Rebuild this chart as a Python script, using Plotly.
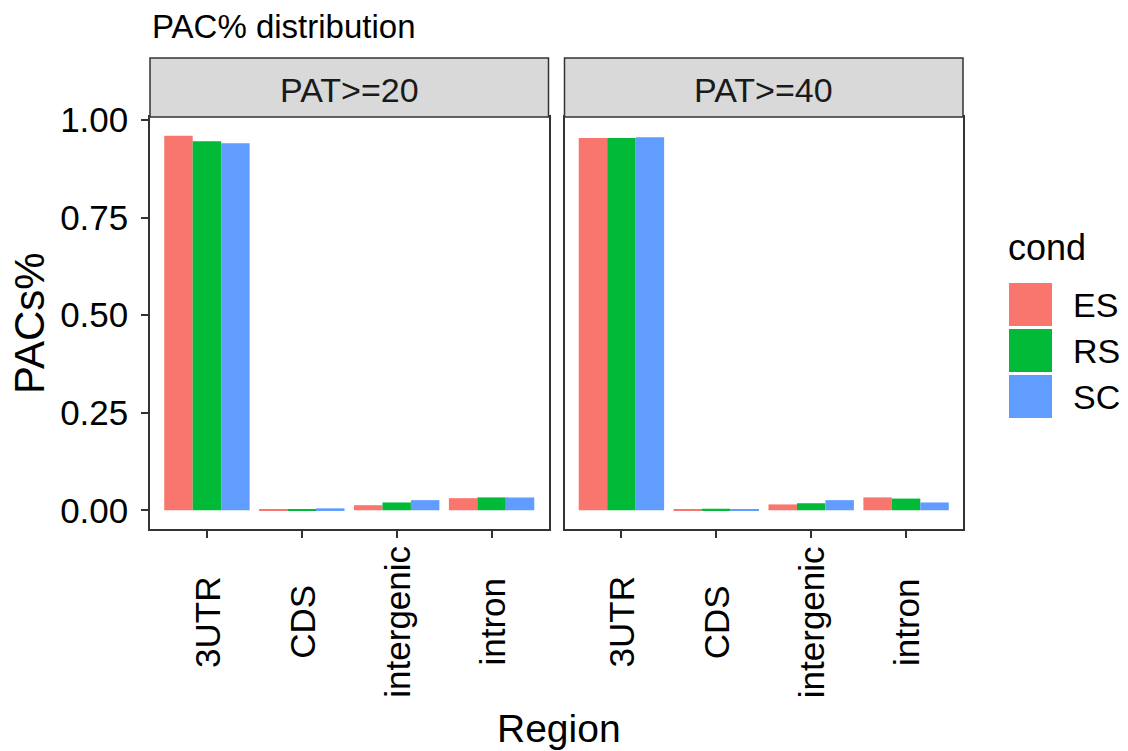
import plotly.graph_objects as go
from plotly.subplots import make_subplots

regions = ["3UTR", "CDS", "intergenic", "intron"]
panels = ["PAT>=20", "PAT>=40"]
conds = ["ES", "RS", "SC"]
colors = ["#F8766D", "#00BA38", "#619CFF"]

# values per panel, per condition
pat20_ES = [0.960, 0.002, 0.013, 0.031]
pat20_RS = [0.946, 0.003, 0.020, 0.033]
pat20_SC = [0.941, 0.005, 0.026, 0.033]
pat40_ES = [0.954, 0.002, 0.015, 0.033]
pat40_RS = [0.954, 0.004, 0.018, 0.030]
pat40_SC = [0.956, 0.003, 0.026, 0.020]

data = [[pat20_ES, pat20_RS, pat20_SC], [pat40_ES, pat40_RS, pat40_SC]]

W, H = 1128, 751
L, R, T, B = 150, 963, 117, 529
pw, ph = R - L, B - T

fig = make_subplots(rows=1, cols=2, shared_yaxes=True,
                    horizontal_spacing=16 / pw)

for p in range(2):
    for c in range(3):
        fig.add_trace(go.Bar(x=regions, y=data[p][c], name=conds[c],
                             marker=dict(color=colors[c], line=dict(width=0)),
                             offsetgroup=str(c), showlegend=False, hoverinfo="skip"),
                      row=1, col=p + 1)

font = "Liberation Sans, Arial, sans-serif"
axis_common = dict(showline=True, mirror=True, linecolor="#333333", linewidth=1.5,
                   showgrid=False, zeroline=False, ticks="outside", ticklen=7,
                   tickcolor="#333333", tickwidth=1.5,
                   tickfont=dict(family=font, size=35, color="black"))

fig.update_xaxes(**axis_common, showticklabels=False, range=[-0.6, 3.6])
fig.update_yaxes(**axis_common, range=[-0.048, 1.008], ticklabelstandoff=6,
                 tickvals=[0, 0.25, 0.5, 0.75, 1.0], tickformat=".2f")
fig.update_yaxes(ticks="", showticklabels=False, row=1, col=2)

def px_x(X):
    return (X - L) / pw

def px_y(Y):
    return (B - Y) / ph

shapes = []
annotations = []
# strips
d1 = fig.layout.xaxis.domain
d2 = fig.layout.xaxis2.domain
for d, lab in zip([d1, d2], panels):
    shapes.append(dict(type="rect", xref="paper", yref="paper",
                       x0=d[0], x1=d[1], y0=1, y1=px_y(58),
                       fillcolor="#D9D9D9", line=dict(color="#333333", width=1.5)))
    annotations.append(dict(text=lab, xref="paper", yref="paper",
                            x=(d[0] + d[1]) / 2, y=px_y(90), showarrow=False,
                            font=dict(family=font, size=34, color="#1A1A1A"),
                            xanchor="center", yanchor="middle"))

# x tick labels (centred, rotated)
for xref in ["x", "x2"]:
    for r in regions:
        annotations.append(dict(text=r, xref=xref, yref="paper", x=r, y=px_y(622),
                                showarrow=False, textangle=-90,
                                xanchor="center", yanchor="middle",
                                font=dict(family=font, size=35, color="black")))

# title
annotations.append(dict(text="PAC% distribution", xref="paper", yref="paper",
                        x=0, y=px_y(26), showarrow=False, xanchor="left", yanchor="middle",
                        font=dict(family=font, size=33, color="black")))
# axis titles
annotations.append(dict(text="PACs%", xref="paper", yref="paper",
                        x=px_x(29), y=px_y(323), showarrow=False, textangle=-90,
                        xanchor="center", yanchor="middle",
                        font=dict(family=font, size=42, color="black")))
annotations.append(dict(text="Region", xref="paper", yref="paper",
                        x=px_x(559), y=px_y(728), showarrow=False,
                        xanchor="center", yanchor="middle",
                        font=dict(family=font, size=39, color="black")))
# legend
annotations.append(dict(text="cond", xref="paper", yref="paper",
                        x=px_x(1006), y=px_y(247), showarrow=False,
                        xanchor="left", yanchor="middle",
                        font=dict(family=font, size=36, color="black")))
keys = [(283, 326), (329, 372), (375, 418)]
for (y0, y1), c, col in zip(keys, conds, colors):
    shapes.append(dict(type="rect", xref="paper", yref="paper",
                       x0=px_x(1009), x1=px_x(1052), y0=px_y(y1), y1=px_y(y0),
                       fillcolor=col, line=dict(width=0)))
    annotations.append(dict(text=c, xref="paper", yref="paper",
                            x=px_x(1071), y=px_y((y0 + y1) / 2), showarrow=False,
                            xanchor="left", yanchor="middle",
                            font=dict(family=font, size=34, color="black")))

fig.update_layout(width=W, height=H, barmode="group", bargap=0.1, bargroupgap=0,
                  plot_bgcolor="white", paper_bgcolor="white",
                  margin=dict(l=L, r=W - R, t=T, b=H - B, autoexpand=False),
                  shapes=shapes, annotations=annotations, showlegend=False,
                  font=dict(family=font))

fig.write_html("out.html", config={"displayModeBar": False},
               post_script="document.body.style.margin='0px';")
